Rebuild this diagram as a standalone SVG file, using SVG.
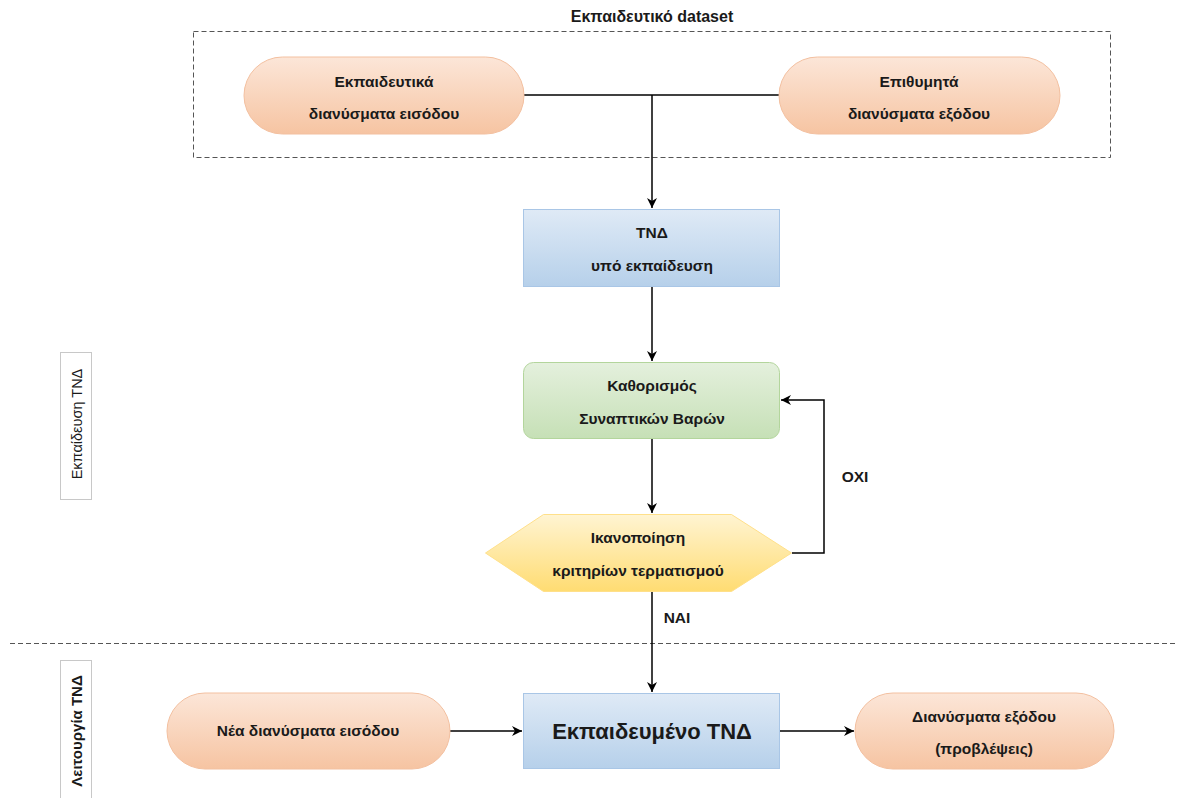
<svg xmlns="http://www.w3.org/2000/svg" width="1178" height="798" viewBox="0 0 1178 798">
<defs>
<linearGradient id="gPeach" x1="0" y1="0" x2="0" y2="1"><stop offset="0" stop-color="#fce6d8"/><stop offset="1" stop-color="#f6c4a2"/></linearGradient>
<linearGradient id="gBlue" x1="0" y1="0" x2="0" y2="1"><stop offset="0" stop-color="#dfeaf6"/><stop offset="1" stop-color="#b6d0ea"/></linearGradient>
<linearGradient id="gGreen" x1="0" y1="0" x2="0" y2="1"><stop offset="0" stop-color="#e4f0dd"/><stop offset="1" stop-color="#c6e0b6"/></linearGradient>
<linearGradient id="gYellow" x1="0" y1="0" x2="0" y2="1"><stop offset="0" stop-color="#fff4d2"/><stop offset="1" stop-color="#ffdc72"/></linearGradient>
<marker id="arr" viewBox="0 0 10 10" refX="10" refY="5" markerWidth="10" markerHeight="10" markerUnits="userSpaceOnUse" orient="auto"><path d="M0,0 L10,5 L0,10 L3,5 Z" fill="#000"/></marker>
</defs>
<style>
text{font-family:"Liberation Sans",Arial,sans-serif;font-weight:bold;font-size:15.5px;fill:#1a1a1a;text-anchor:middle}
.pill{fill:url(#gPeach);stroke:#f3c0a0;stroke-width:1}
.blue{fill:url(#gBlue);stroke:#a9c6e6;stroke-width:1}
.green{fill:url(#gGreen);stroke:#b3d59c;stroke-width:1}
.yel{fill:url(#gYellow);stroke:#ffe08a;stroke-width:1}
.con{fill:none;stroke:#000;stroke-width:1.5}
.dash{fill:none;stroke:#555;stroke-width:1;stroke-dasharray:5,3}
.side{fill:#fff;stroke:#c8c8c8;stroke-width:1}
</style>
<rect width="1178" height="798" fill="#fff"/>
<g id="dataset">
<rect class="dash" x="193.5" y="31.5" width="917" height="126"/>
<text x="652" y="22" style="font-size:16px">Εκπαιδευτικό dataset</text>
</g>
<g id="divider"><line class="dash" x1="10" y1="643.5" x2="1178" y2="643.5"/></g>
<g id="side-train">
<rect class="side" x="60.5" y="352.5" width="31" height="147"/>
<text transform="translate(81.5,424) rotate(-90)" style="font-weight:normal;font-size:14.5px">Εκπαίδευση ΤΝΔ</text>
</g>
<g id="side-op">
<rect class="side" x="60.5" y="660.5" width="31" height="140"/>
<text transform="translate(82,731) rotate(-90)" style="font-size:15px">Λειτουργία ΤΝΔ</text>
</g>
<g id="connectors">
<path class="con" d="M524,95 H779"/>
<path class="con" d="M652,95 V208" marker-end="url(#arr)"/>
<path class="con" d="M652,287 V361" marker-end="url(#arr)"/>
<path class="con" d="M652,439 V513" marker-end="url(#arr)"/>
<path class="con" d="M792,553 H824 V400 H781" marker-end="url(#arr)"/>
<path class="con" d="M652,592 V692" marker-end="url(#arr)"/>
<path class="con" d="M450,731 H522" marker-end="url(#arr)"/>
<path class="con" d="M780,731 H854" marker-end="url(#arr)"/>
<text x="855" y="482">ΟΧΙ</text>
<text x="677" y="623">ΝΑΙ</text>
</g>
<g id="train-in">
<rect class="pill" x="244" y="57" width="280" height="77" rx="38.5"/>
<text x="384" y="87">Εκπαιδευτικά</text>
<text x="384" y="119">διανύσματα εισόδου</text>
</g>
<g id="train-out">
<rect class="pill" x="779" y="57" width="281" height="77" rx="38.5"/>
<text x="919" y="87">Επιθυμητά</text>
<text x="919" y="119">διανύσματα εξόδου</text>
</g>
<g id="ann">
<rect class="blue" x="523.5" y="209.5" width="256" height="77"/>
<text x="652" y="238">ΤΝΔ</text>
<text x="652" y="271">υπό εκπαίδευση</text>
</g>
<g id="weights">
<rect class="green" x="523.5" y="362.5" width="256" height="76" rx="10"/>
<text x="652" y="391">Καθορισμός</text>
<text x="652" y="424">Συναπτικών Βαρών</text>
</g>
<g id="criteria">
<polygon class="yel" points="485.5,553 543.5,514.5 731.5,514.5 791.5,553 731.5,591.5 543.5,591.5"/>
<text x="638" y="543">Ικανοποίηση</text>
<text x="638" y="576">κριτηρίων τερματισμού</text>
</g>
<g id="new-in">
<rect class="pill" x="167" y="693" width="283" height="76" rx="38"/>
<text x="308" y="736">Νέα διανύσματα εισόδου</text>
</g>
<g id="trained">
<rect class="blue" x="523.5" y="693.5" width="256" height="75"/>
<text x="652" y="739" style="font-size:22px">Εκπαιδευμένο ΤΝΔ</text>
</g>
<g id="out">
<rect class="pill" x="855" y="693" width="259" height="76" rx="38"/>
<text x="984" y="722">Διανύσματα εξόδου</text>
<text x="984" y="754">(προβλέψεις)</text>
</g>
</svg>
